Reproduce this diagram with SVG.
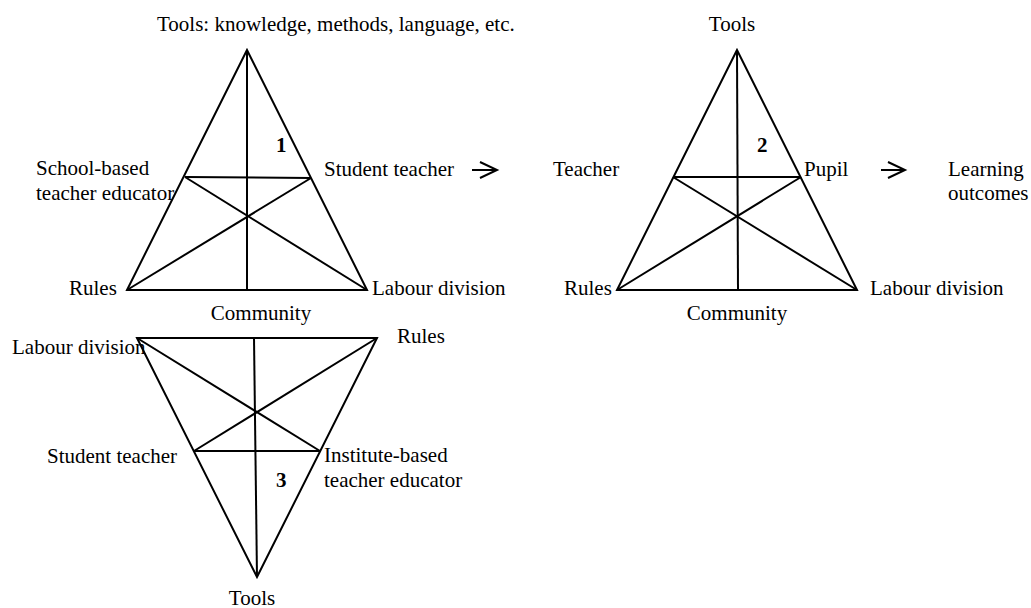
<svg xmlns="http://www.w3.org/2000/svg" width="1031" height="608" viewBox="0 0 1031 608">
<style>
.ln{stroke:#000;stroke-width:2;fill:none;stroke-linejoin:miter}
text{font-family:'Liberation Serif','DejaVu Serif',serif;font-size:21px;fill:#000}
.b{font-weight:bold}
.m{text-anchor:middle}
</style>
<rect width="1031" height="608" fill="#fff"/>
<g id="triangle1" font-family="Liberation Serif">
<polygon class="ln" points="247,50 127,290 367,290"/>
<line class="ln" x1="247" y1="50" x2="247" y2="290"/>
<line class="ln" x1="185" y1="177" x2="311" y2="178"/>
<line class="ln" x1="185" y1="177" x2="367" y2="290"/>
<line class="ln" x1="311" y1="178" x2="127" y2="290"/>
<text x="157" y="31">Tools: knowledge, methods, language, etc.</text>
<text class="b" x="276" y="152">1</text>
<text x="36" y="175">School-based</text>
<text x="36" y="200">teacher educator</text>
<text x="324" y="176">Student teacher</text>
<text x="69" y="295">Rules</text>
<text x="372" y="295">Labour division</text>
<text class="m" x="261" y="320">Community</text>
</g>
<g id="triangle2">
<polygon class="ln" points="737,50 617,290 857,290"/>
<line class="ln" x1="737" y1="50" x2="738" y2="290"/>
<line class="ln" x1="673" y1="177" x2="801" y2="177"/>
<line class="ln" x1="673" y1="177" x2="857" y2="290"/>
<line class="ln" x1="801" y1="177" x2="617" y2="290"/>
<text class="m" x="732" y="31">Tools</text>
<text class="b" x="757" y="152">2</text>
<text x="553" y="176">Teacher</text>
<text x="804" y="176">Pupil</text>
<text x="948" y="176">Learning</text>
<text x="948" y="200">outcomes</text>
<text x="564" y="295">Rules</text>
<text x="870" y="295">Labour division</text>
<text class="m" x="737" y="320">Community</text>
</g>
<g id="triangle3">
<polygon class="ln" points="137,338 377,338 257,577"/>
<line class="ln" x1="254" y1="338" x2="257" y2="577"/>
<line class="ln" x1="194" y1="451" x2="320" y2="451"/>
<line class="ln" x1="137" y1="338" x2="320" y2="451"/>
<line class="ln" x1="377" y1="338" x2="194" y2="451"/>
<text x="12" y="354">Labour division</text>
<text x="397" y="343">Rules</text>
<text x="47" y="463">Student teacher</text>
<text x="324" y="462">Institute-based</text>
<text x="324" y="487">teacher educator</text>
<text class="b" x="276" y="487">3</text>
<text class="m" x="252" y="605">Tools</text>
</g>
<g id="connectors">
<line class="ln" x1="472" y1="170" x2="496" y2="170" stroke-width="1.5"/>
<polyline class="ln" points="480,162 497,170 480,178" stroke-width="1.5"/>
<line class="ln" x1="881" y1="170" x2="904" y2="170" stroke-width="1.5"/>
<polyline class="ln" points="888,162 905,170 888,178" stroke-width="1.5"/>
</g>
</svg>
